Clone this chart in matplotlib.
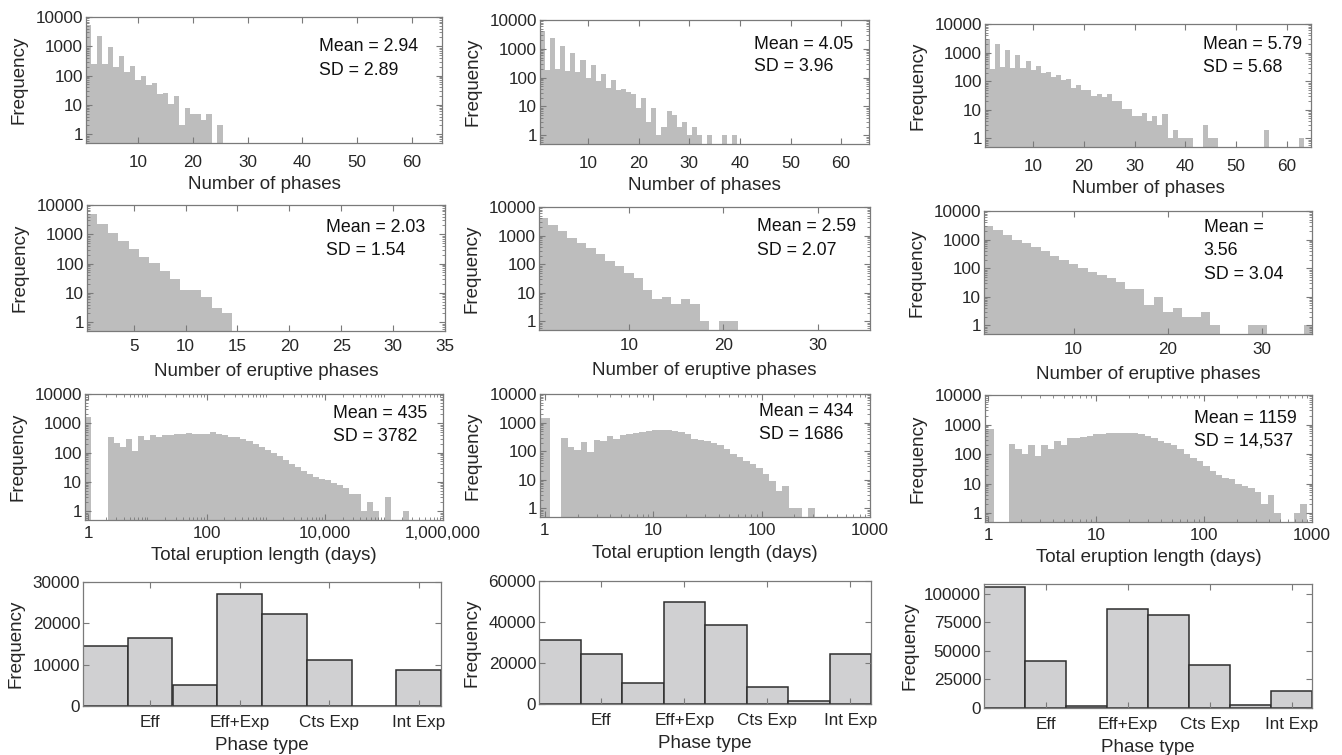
import numpy as np
import matplotlib
matplotlib.use("Agg")
import matplotlib.pyplot as plt
from matplotlib.ticker import FixedLocator, NullFormatter

plt.rcParams["font.family"] = ["Liberation Sans", "DejaVu Sans"]

HIST_GRAY = "#bdbdbd"
BAR_FACE = "#d0d0d2"
BAR_EDGE = "#2e2e2e"
AXIS_GRAY = "#7a7a7a"
TEXT = "#262626"

# --- row 1: number of phases (one bin per phase count, starting at 1) ---
phases_a = [5500, 250, 2300, 250, 950, 190, 460, 130, 210, 70, 100, 48, 58,
            24, 25, 11, 20, 2, 8, 5, 5, 3, 5, 0, 2]
phases_b = [4100, 190, 2300, 200, 1240, 168, 690, 155, 400, 98, 270, 75, 138,
            44, 81, 38, 42, 32, 27, 9, 19, 3, 9, 1, 2, 7, 5, 2, 3, 1, 2, 1,
            0, 1, 0, 0, 1, 0, 1]
phases_c = [2900, 275, 2000, 320, 1250, 280, 800, 280, 520, 240, 350, 200,
            210, 140, 170, 108, 117, 60, 75, 50, 50, 31, 36, 27, 37, 21, 21,
            11, 11, 6, 6, 8, 4, 6, 3, 7, 1, 2, 1, 1, 1, 0, 0, 3, 1, 1, 0, 0,
            0, 0, 0, 0, 0, 0, 0, 2, 0, 0, 0, 0, 0, 0, 1]

# --- row 2: number of eruptive phases ---
eruptive_a = [5000, 2300, 1150, 600, 320, 170, 105, 55, 29, 13, 13, 7, 3, 2]
eruptive_b = [4000, 2400, 1400, 800, 540, 370, 220, 130, 90, 50, 32, 13, 6,
              7, 4, 6, 4, 1, 0, 1, 1]
eruptive_c = [2900, 2100, 1400, 1000, 750, 560, 400, 270, 200, 140, 100, 75,
              60, 45, 32, 18, 18, 5, 10, 3, 4, 2, 2, 3, 1, 0, 0, 0, 1, 1, 0,
              0, 0, 0, 1]

# --- row 3: total eruption length (log10-spaced bins) ---
length_a_one = 1700
length_a = [330, 220, 160, 290, 110, 360, 260, 410, 340, 390, 390, 420, 440,
            450, 440, 430, 420, 490, 440, 400, 340, 330, 300, 250, 190, 150,
            120, 100, 75, 55, 42, 32, 24, 18, 15, 13, 12, 9, 8, 6, 4, 4, 1, 2,
            1, 0, 3, 0, 0, 1]
length_b_one = 1500
length_b = [280, 145, 108, 210, 95, 250, 220, 340, 260, 360, 390, 420, 470,
            510, 530, 540, 570, 510, 470, 390, 260, 250, 230, 190, 160, 120,
            80, 65, 46, 35, 25, 16, 9, 4, 6, 1, 1, 0, 1]
length_c_one = 690
length_c = [215, 145, 100, 200, 85, 200, 145, 275, 200, 360, 340, 390, 410,
            470, 490, 500, 530, 530, 530, 500, 470, 410, 340, 275, 230, 195,
            145, 100, 75, 58, 39, 26, 19, 16, 14, 10, 8, 7, 5, 2, 4, 1, 0, 0,
            1, 2]

# --- row 4: phase type counts ---
phase_types = ["Eff", "Eff+Exp", "Cts Exp", "Int Exp"]
types_a = [14600, 16400, 5000, 27100, 22300, 11100, 0, 8700]
types_b = [31000, 24500, 10300, 49800, 38500, 8300, 1300, 24500]
types_c = [106000, 41200, 2100, 86800, 81800, 37600, 3000, 15000]

W, H = 1342, 755
fig = plt.figure(figsize=(W / 100, H / 100), dpi=100)

TICK_FS = 12.3
LABEL_FS = 13.5
NOTE_FS = 12.8


def add_ax(left, top, right, bottom):
    return fig.add_axes([left / W, 1 - bottom / H, (right - left) / W,
                         (bottom - top) / H])


def style(ax, xpad):
    for s in ax.spines.values():
        s.set_color(AXIS_GRAY)
        s.set_linewidth(0.9)
    ax.tick_params(which="both", direction="in", top=True, right=True,
                   colors=AXIS_GRAY, labelcolor=TEXT, labelsize=TICK_FS)
    ax.tick_params(which="major", length=4, width=0.8)
    ax.tick_params(which="minor", length=2, width=0.6)
    ax.tick_params(axis="x", which="both", pad=xpad)
    ax.tick_params(axis="y", which="both", pad=2)


def log_freq_axis(ax):
    ax.set_yscale("log")
    ax.set_ylim(0.5, 10000)
    ax.yaxis.set_major_locator(FixedLocator([1, 10, 100, 1000, 10000]))
    ax.set_yticklabels(["1", "10", "100", "1000", "10000"])
    minors = [m * 10 ** e for e in range(-1, 4) for m in range(2, 10)]
    ax.yaxis.set_minor_locator(FixedLocator(minors))
    ax.yaxis.set_minor_formatter(NullFormatter())
    ax.set_ylabel("Frequency", fontsize=LABEL_FS, color=TEXT, labelpad=6)


def stats(ax, x, ys, lines):
    for y, t in zip(ys, lines):
        ax.text(x, y, t, transform=ax.transAxes, fontsize=NOTE_FS,
                color="#111111", va="center", ha="left")


def count_hist(box, counts, xlim, xticks, xlabel, xpad, lpad, sx, ys, lines):
    ax = add_ax(*box)
    counts = np.asarray(counts, dtype=float)
    k = np.arange(1, len(counts) + 1)
    keep = counts > 0
    ax.bar(k[keep] - 0.5, counts[keep], width=1.0, align="edge",
           color=HIST_GRAY, linewidth=0)
    log_freq_axis(ax)
    ax.set_xlim(*xlim)
    ax.set_xticks(xticks)
    ax.set_xlabel(xlabel, fontsize=LABEL_FS, color=TEXT, labelpad=lpad)
    style(ax, xpad)
    stats(ax, sx, ys, lines)
    return ax


def length_hist(box, one, counts, first_edge, step, xlim, ticks, labels,
                sx, ys, lines):
    ax = add_ax(*box)
    # single-day eruptions sit in the bin centred on log10(1) = 0
    lo = [-0.05]
    hi = [0.05]
    vals = [one]
    for i, c in enumerate(counts):
        lo.append(first_edge + i * step)
        hi.append(first_edge + (i + 1) * step)
        vals.append(c)
    lo, hi, vals = np.array(lo), np.array(hi), np.array(vals, dtype=float)
    keep = vals > 0
    ax.bar(10 ** lo[keep], vals[keep], width=10 ** hi[keep] - 10 ** lo[keep],
           align="edge", color=HIST_GRAY, linewidth=0)
    ax.set_xscale("log")
    ax.set_xlim(*xlim)
    ax.xaxis.set_major_locator(FixedLocator(ticks))
    ax.set_xticklabels(labels)
    minors = [m * 10 ** e for e in range(0, 7) for m in range(1, 10)
              if not (m == 1 and 10 ** e in ticks)]
    ax.xaxis.set_minor_locator(FixedLocator(minors))
    ax.xaxis.set_minor_formatter(NullFormatter())
    log_freq_axis(ax)
    ax.set_xlabel("Total eruption length (days)", fontsize=LABEL_FS,
                  color=TEXT, labelpad=5)
    style(ax, 4)
    stats(ax, sx, ys, lines)
    return ax


def type_bars(box, counts, ylim, yticks, ylabelpad):
    ax = add_ax(*box)
    x = np.arange(1, len(counts) + 1)
    ax.bar(x, counts, width=1.0, color=BAR_FACE, edgecolor=BAR_EDGE,
           linewidth=1.1)
    ax.set_xlim(0.5, 8.5)
    ax.set_ylim(*ylim)
    ax.set_yticks(yticks)
    ax.set_yticklabels([str(v) for v in yticks])
    ax.set_xticks([2, 4, 6, 8])
    ax.set_xticklabels(phase_types)
    ax.set_xlabel("Phase type", fontsize=LABEL_FS, color=TEXT, labelpad=5)
    ax.set_ylabel("Frequency", fontsize=LABEL_FS, color=TEXT,
                  labelpad=ylabelpad)
    style(ax, 6.5)
    return ax


# row 1
count_hist((86, 17, 442, 143), phases_a, (0.5, 65.5), range(10, 61, 10),
           "Number of phases", 8.5, 4.5, 0.654, (0.764, 0.579),
           ("Mean = 2.94", "SD = 2.89"))
count_hist((540, 20, 869, 144), phases_b, (0.5, 65.5), range(10, 61, 10),
           "Number of phases", 8.5, 4.5, 0.65, (0.806, 0.623),
           ("Mean = 4.05", "SD = 3.96"))
count_hist((985, 24, 1311, 147), phases_c, (0.5, 64.8), range(10, 61, 10),
           "Number of phases", 8.5, 4.5, 0.668, (0.835, 0.645),
           ("Mean = 5.79", "SD = 5.68"))

# row 2
count_hist((87, 205, 445, 331), eruptive_a, (0.5, 35), range(5, 36, 5),
           "Number of eruptive phases", 6, 6.5, 0.668, (0.82, 0.635),
           ("Mean = 2.03", "SD = 1.54"))
count_hist((539, 207, 870, 330), eruptive_b, (0.5, 35.5), [10, 20, 30],
           "Number of eruptive phases", 6, 6.5, 0.658, (0.84, 0.65),
           ("Mean = 2.59", "SD = 2.07"))
count_hist((984, 211, 1312, 334), eruptive_c, (0.5, 35.3), [10, 20, 30],
           "Number of eruptive phases", 6, 6.5, 0.67, (0.865, 0.675, 0.485),
           ("Mean =", "3.56", "SD = 3.04"))

# row 3
length_hist((85, 394, 443, 520), length_a_one, length_a, 0.33, 0.102,
            (0.88, 1e6), [1, 100, 1e4, 1e6],
            ["1", "100", "10,000", "1,000,000"],
            0.693, (0.847, 0.661), ("Mean = 435", "SD = 3782"))
length_hist((540, 394, 870, 517), length_b_one, length_b, 0.15, 0.06,
            (0.9, 1000), [1, 10, 100, 1000], ["1", "10", "100", "1000"],
            0.664, (0.856, 0.672), ("Mean = 434", "SD = 1686"))
length_hist((985, 395, 1312, 522), length_c_one, length_c, 0.19, 0.06,
            (0.93, 1000), [1, 10, 100, 1000], ["1", "10", "100", "1000"],
            0.64, (0.817, 0.64), ("Mean = 1159", "SD = 14,537"))

# row 4
type_bars((83, 582, 441, 706), types_a, (0, 30000), [0, 10000, 20000, 30000],
          6)
type_bars((539, 581, 871, 704), types_b, (0, 60000),
          [0, 20000, 40000, 60000], 6)
type_bars((984, 584, 1312, 708), types_c, (0, 108500),
          [0, 25000, 50000, 75000, 100000], 4)

fig.savefig("out.png", dpi=100)
